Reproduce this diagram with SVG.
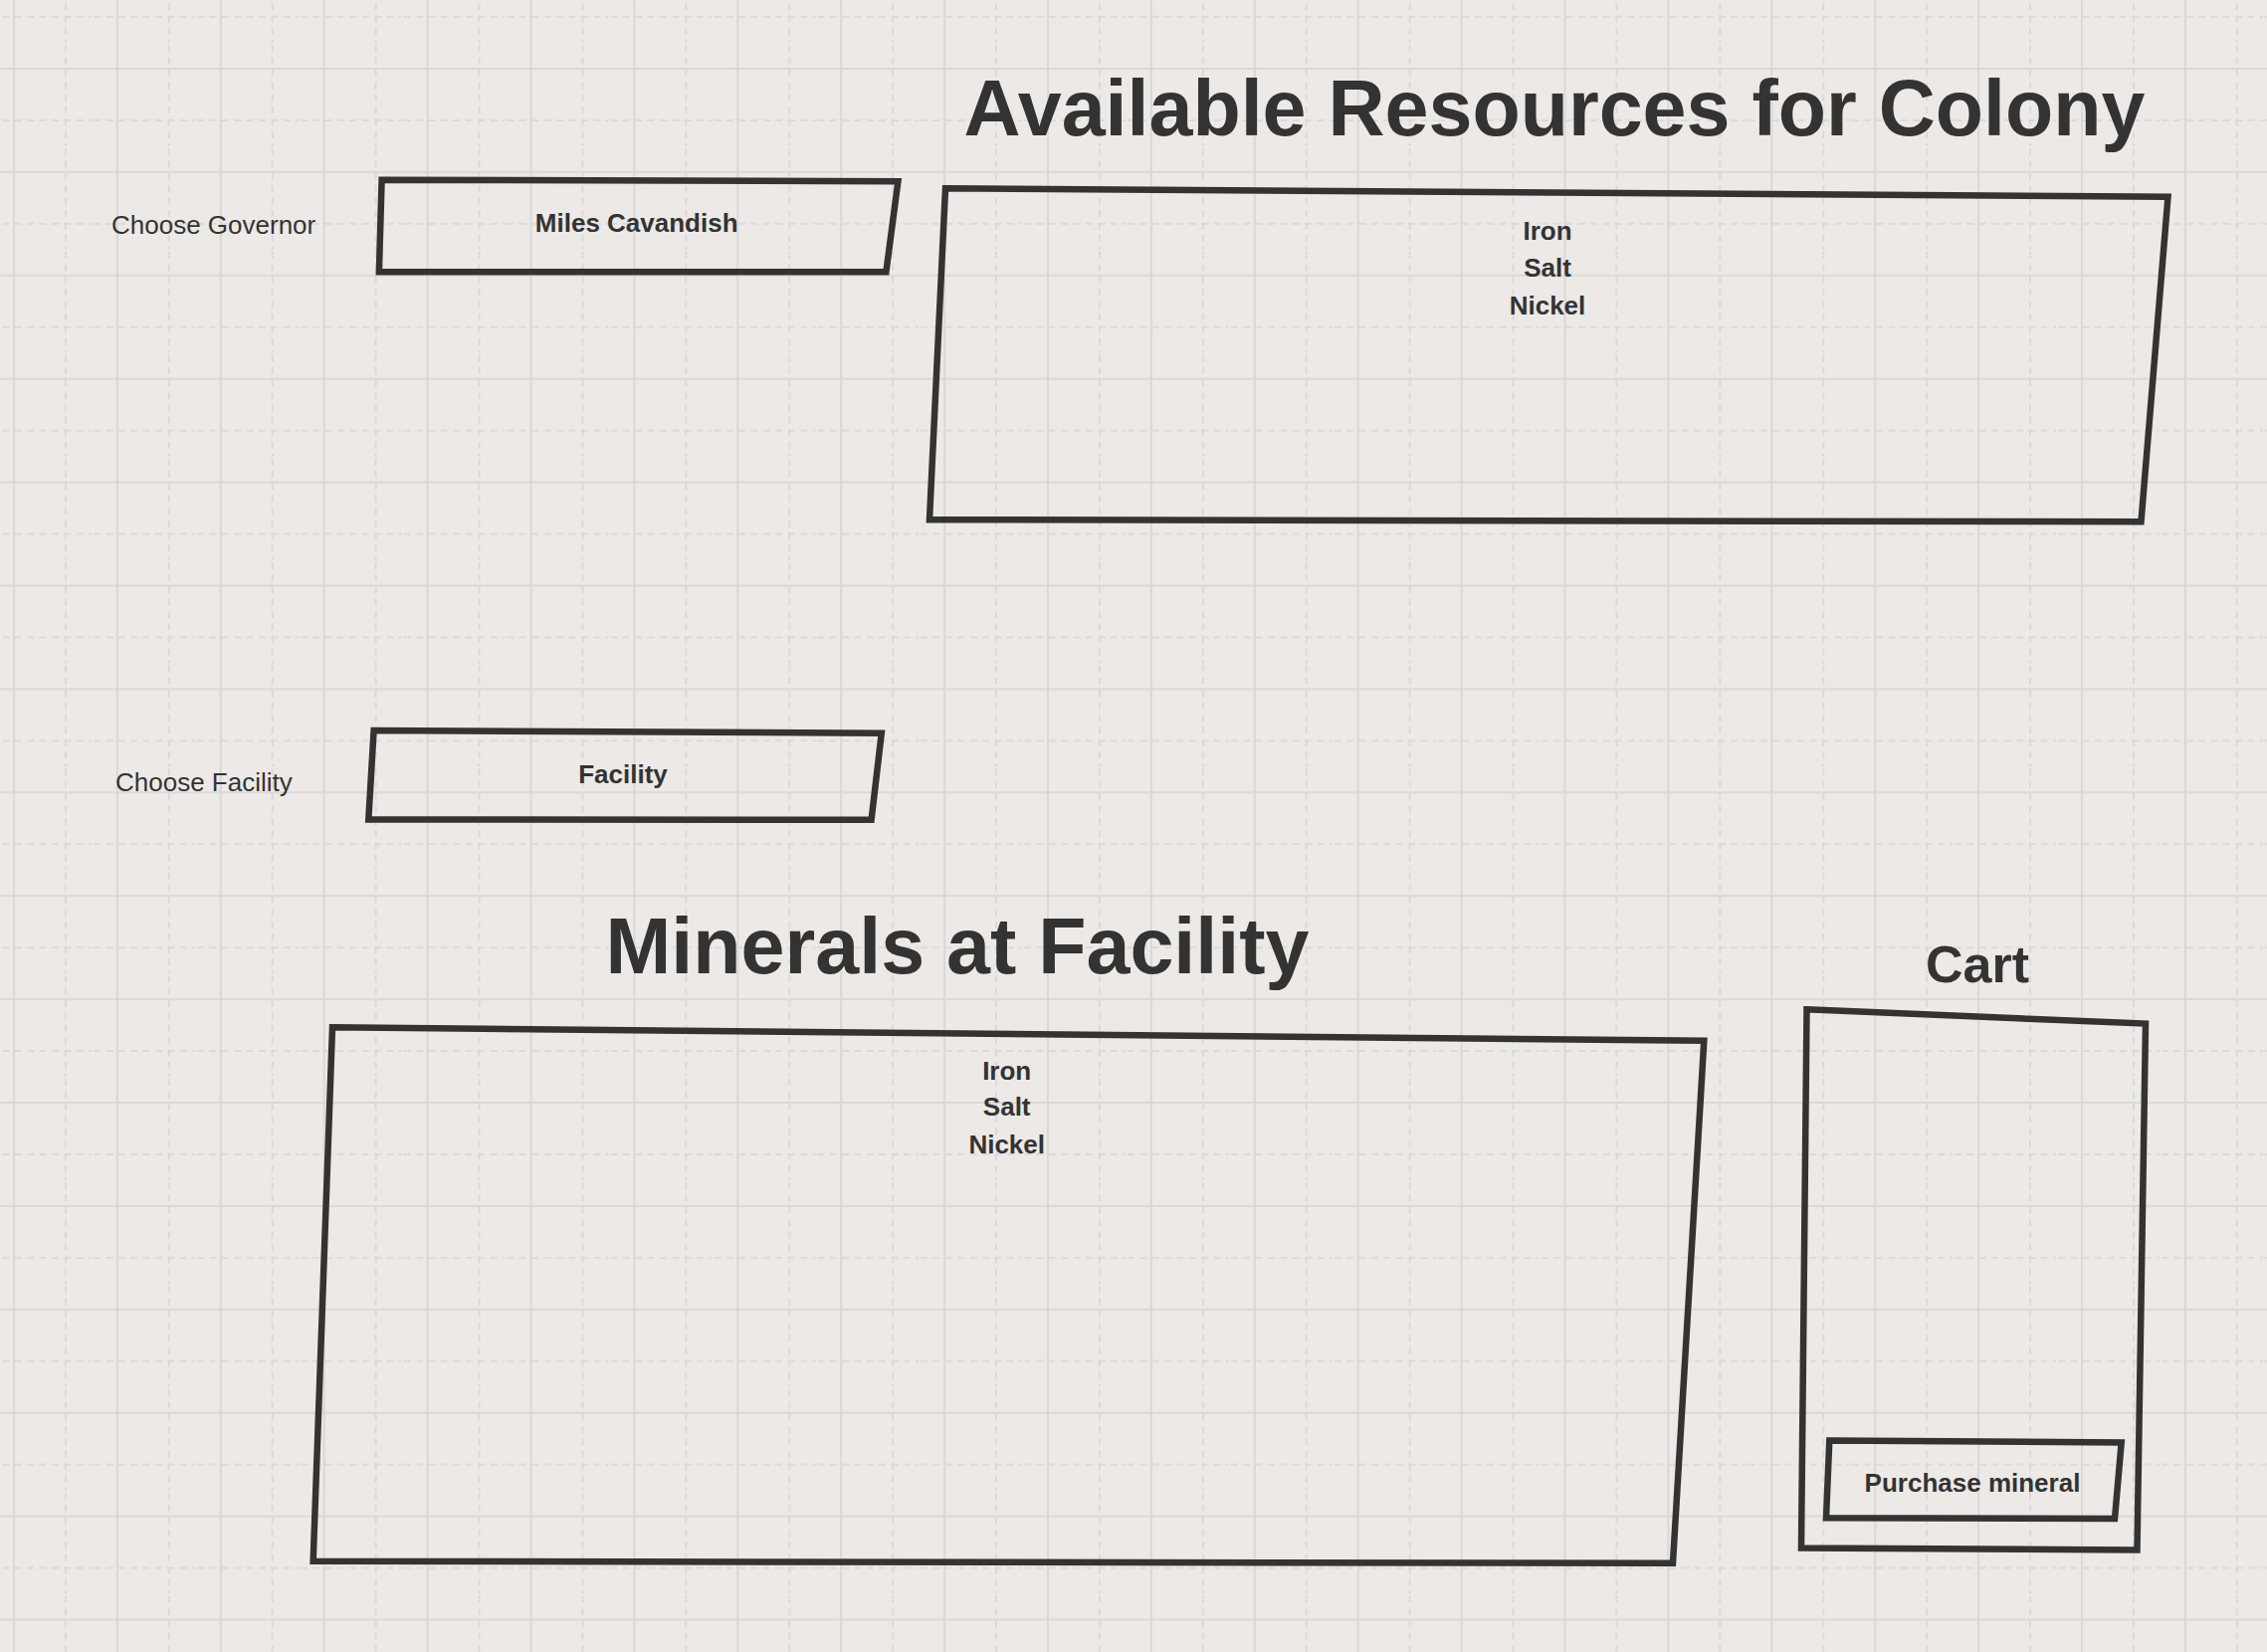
<svg xmlns="http://www.w3.org/2000/svg" width="2278" height="1660" viewBox="0 0 2278 1660">
<defs>
<pattern id="grid" patternUnits="userSpaceOnUse" x="-11.975" y="43.025" width="103.9" height="103.9">
<line x1="25.975" y1="0" x2="25.975" y2="103.9" class="gs"/>
<line x1="0" y1="25.975" x2="103.9" y2="25.975" class="gs"/>
<line x1="77.925" y1="2" x2="77.925" y2="103.9" class="gd"/>
<line x1="2" y1="77.925" x2="103.9" y2="77.925" class="gd"/>
</pattern>
</defs>
<style>
.gs{stroke:#d6d4d2;stroke-width:1.6;fill:none}
.gd{stroke:#d8d6d4;stroke-width:1.6;fill:none;stroke-dasharray:7 5.4}
.box{fill:none;stroke:#333333;stroke-width:6.5;stroke-linejoin:miter}
.t{font-family:"Liberation Sans",Arial,Helvetica,sans-serif;fill:#333333}
.lbl{font-size:26px}
.b{font-size:26px;font-weight:bold;text-anchor:middle}
.title{font-size:79px;font-weight:bold;text-anchor:middle}
.cart{font-size:52px;font-weight:bold;text-anchor:middle}
</style>
<rect x="0" y="0" width="2278" height="1660" fill="#ece9e6"/>
<rect x="0" y="0" width="2278" height="1660" fill="url(#grid)"/>

<g id="title-resources">
<text class="t title" x="1562" y="136">Available Resources for Colony</text>
</g>
<g id="label-governor">
<text class="t lbl" x="112" y="234.5">Choose Governor</text>
</g>
<g id="governor-select">
<polygon class="box" points="383.6,180.7 902.4,182.3 890.4,273.3 380.9,273.3"/>
<text class="t b" x="639.7" y="233">Miles Cavandish</text>
</g>
<g id="resources-list">
<polygon class="box" points="950,189.3 2178.5,197.7 2151.5,524.3 934,522.2"/>
<text class="t b" x="1555" y="240.7">Iron</text>
<text class="t b" x="1555" y="278.3">Salt</text>
<text class="t b" x="1555" y="315.7">Nickel</text>
</g>
<g id="label-facility">
<text class="t lbl" x="116" y="795">Choose Facility</text>
</g>
<g id="facility-select">
<polygon class="box" points="375.6,734 885.8,736.7 875.6,823.8 370.3,823.5"/>
<text class="t b" x="626" y="787">Facility</text>
</g>
<g id="title-minerals">
<text class="t title" x="962" y="978.3">Minerals at Facility</text>
</g>
<g id="minerals-list">
<polygon class="box" points="334,1032.3 1712.3,1045.8 1681,1570.7 314.7,1568.8"/>
<text class="t b" x="1011.7" y="1084.5">Iron</text>
<text class="t b" x="1011.7" y="1121">Salt</text>
<text class="t b" x="1011.7" y="1159">Nickel</text>
</g>
<g id="title-cart">
<text class="t cart" x="1987" y="987">Cart</text>
</g>
<g id="cart">
<polygon class="box" points="1815.5,1014.3 2156,1028.6 2147.5,1557.5 1810,1555.5"/>
</g>
<g id="purchase-button">
<polygon class="box" points="1838.3,1447.4 2131.7,1449.4 2125,1526 1835,1525.3"/>
<text class="t b" x="1982" y="1499">Purchase mineral</text>
</g>
<g id="connectors"></g>
</svg>
